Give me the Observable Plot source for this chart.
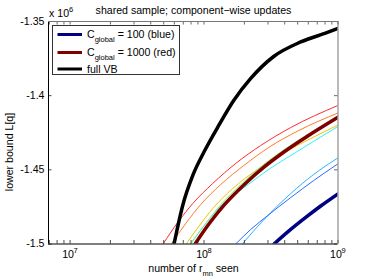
<!DOCTYPE html>
<html><head><meta charset="utf-8">
<script src="https://cdn.jsdelivr.net/npm/d3@7"></script>
<script src="https://cdn.jsdelivr.net/npm/@observablehq/plot@0.6"></script>
<style>
body{margin:0;background:#fff}
#wrap{position:relative;width:373px;height:280px}
</style>
</head><body><div id="wrap"></div>
<script>
// ---- data (x: number of r_mn seen, y: lower bound L[q] in units of 1e6) ----
const fullVB_x = [5.97e7, 6.93e7, 8.24e7, 1.012e8, 1.287e8, 1.665e8, 2.231e8, 3.31e8, 5.27e8, 8.34e8, 1e9];
const fullVB_y = [-1.5, -1.4740, -1.4538, -1.4370, -1.4201, -1.4033, -1.3884, -1.3736, -1.3638, -1.3574, -1.3547];

const c1000_x = [8.42e7, 1.09e8, 1.41e8, 1.99e8, 2.80e8, 3.95e8, 5.91e8, 1e9];
const c1000_y = [-1.501, -1.4864, -1.4738, -1.4600, -1.4482, -1.4380, -1.4274, -1.4146];

const c100_x = [3.33e8, 4.436e8, 5.741e8, 7.429e8, 1e9];
const c100_y = [-1.5, -1.4902, -1.4821, -1.4744, -1.4662];

const red_x = [4.94e7, 6.36e7, 8.24e7, 1.161e8, 1.724e8, 2.649e8, 4.436e8, 1e9];
const red_y = [-1.5, -1.4855, -1.4727, -1.4592, -1.4457, -1.4336, -1.4215, -1.4066];

const orange_x = [5.69e7, 7.30e7, 9.45e7, 1.332e8, 1.979e8, 3.040e8, 5.090e8, 1e9];
const orange_y = [-1.5, -1.4862, -1.4734, -1.4599, -1.4471, -1.4349, -1.4235, -1.4117];

const green_x = [7.956e7, 1.030e8, 1.332e8, 1.879e8, 2.649e8, 3.80e8, 5.741e8, 1e9];
const green_y = [-1.5, -1.4862, -1.4735, -1.4600, -1.4480, -1.4375, -1.4270, -1.4134];

const gold_x = [7.365e7, 9.13e7, 1.161e8, 1.638e8, 2.431e8, 3.866e8, 6.258e8, 1e9];
const gold_y = [-1.5, -1.4882, -1.4761, -1.4626, -1.4505, -1.4390, -1.4289, -1.4198];

const cyan_x = [7.89e7, 9.95e7, 1.287e8, 2.156e8, 3.147e8, 4.834e8, 6.817e8, 1e9];
const cyan_y = [-1.5, -1.4879, -1.4757, -1.4596, -1.4488, -1.4383, -1.4299, -1.4208];

const sky_x = [1.934e8, 2.431e8, 3.147e8, 4.436e8, 6.587e8, 1e9];
const sky_y = [-1.5, -1.4896, -1.4788, -1.4660, -1.4531, -1.4419];

const blue_x = [1.724e8, 2.231e8, 2.988e8, 4.436e8, 6.587e8, 1e9];
const blue_y = [-1.5, -1.4902, -1.4808, -1.4687, -1.4572, -1.4459];

const yTicks = [-1.5, -1.45, -1.4, -1.35];
const yTickLabels = ["-1.5", "-1.45", "-1.4", "-1.35"];
const xMajorTicks = [1e7, 1e8, 1e9];
const xMajorExp = ["7", "8", "9"];
const xMinorTicks = [7e6, 8e6, 9e6, 2e7, 3e7, 4e7, 5e7, 6e7, 7e7, 8e7, 9e7, 2e8, 3e8, 4e8, 5e8, 6e8, 7e8, 8e8, 9e8];
const xDomain = [6.9e6, 1e9];
const yDomain = [-1.5, -1.35];

const legendLabels = [["C", "global", " = 100 (blue)"], ["C", "global", " = 1000 (red)"], ["", "", "full VB"]];

// ---- build table ----
const rows = [];
function add(name, xs, ys, color, w) { xs.forEach((x, i) => rows.push({series: name, x, y: ys[i], color, w})); }
add("red", red_x, red_y, "#ff2a2a", 1);
add("orange", orange_x, orange_y, "#ff7a26", 1);
add("gold", gold_x, gold_y, "#f2c200", 1);
add("cyan", cyan_x, cyan_y, "#33f0f0", 1);
add("green", green_x, green_y, "#7ef07e", 1);
add("sky", sky_x, sky_y, "#26b5ff", 1);
add("blue", blue_x, blue_y, "#3366ff", 1);
add("fullVB", fullVB_x, fullVB_y, "#000000", 3.5);
add("c1000", c1000_x, c1000_y, "#800000", 3.5);
add("c100", c100_x, c100_y, "#000080", 3.5);

const W = 373, H = 280, mL = 48, mR = 35.5, mT = 21, mB = 36.5;
const ph = H - mT - mB, pw = W - mL - mR, tk = 3.5;
const font = "'Liberation Sans', Arial, Helvetica, sans-serif";

const chart = Plot.plot({
  width: W, height: H,
  marginLeft: mL, marginRight: mR, marginTop: mT, marginBottom: mB,
  x: {type: "log", domain: xDomain, axis: null},
  y: {domain: yDomain, axis: null},
  style: {fontFamily: font, fontSize: "10.6px", background: "white", color: "black"},
  marks: [
    Plot.line(rows, {x: "x", y: "y", z: "series", stroke: "color", strokeWidth: "w", curve: "monotone-x", clip: true}),
    // ticks (inward)
    Plot.ruleX(xMajorTicks.concat(xMinorTicks), {insetTop: ph - tk, stroke: "#222", strokeWidth: 0.8}),
    Plot.ruleX(xMajorTicks.concat(xMinorTicks), {insetBottom: ph - tk, stroke: "#444", strokeWidth: 0.8}),
    Plot.ruleY(yTicks, {insetRight: pw - tk, stroke: "#222", strokeWidth: 0.8}),
    Plot.ruleY(yTicks, {insetLeft: pw - tk, stroke: "#444", strokeWidth: 0.8}),
    // box
    Plot.ruleX([xDomain[0]], {stroke: "#000"}),
    Plot.ruleY([yDomain[0]], {stroke: "#000"}),
    Plot.ruleX([xDomain[1]], {stroke: "#777"}),
    Plot.ruleY([yDomain[1]], {stroke: "#777"}),
    // y tick labels
    Plot.text(yTicks, {y: d => d, text: (d, i) => yTickLabels[i], frameAnchor: "left", textAnchor: "end", dx: -4, fontSize: 10.6}),
    // x tick labels 10^n
    Plot.text(xMajorTicks, {x: d => d, text: () => "10", frameAnchor: "bottom", dy: 13.5, dx: -2, fontSize: 10.6}),
    Plot.text(xMajorTicks, {x: d => d, text: (d, i) => xMajorExp[i], frameAnchor: "bottom", dy: 8.5, dx: 5.5, fontSize: 7.5})
  ]
});
document.getElementById("wrap").append(chart);

const svg = d3.select(chart);
svg.attr("font-family", font);
// title
svg.append("text").attr("x", 193.5).attr("y", 13.5).attr("text-anchor", "middle")
  .attr("font-size", 10.6).attr("fill", "#000").text("shared sample; component\u2212wise updates");
// x 10^6 multiplier
const mult = svg.append("text").attr("x", 49).attr("y", 16.5).attr("text-anchor", "start").attr("font-size", 10.6).attr("fill", "#000");
mult.append("tspan").text("x 10");
mult.append("tspan").attr("dy", -5).attr("font-size", 7.5).text("6");
// x label
const xl = svg.append("text").attr("x", 193.5).attr("y", 272).attr("text-anchor", "middle").attr("font-size", 10.6).attr("fill", "#000");
xl.append("tspan").text("number of r");
xl.append("tspan").attr("dy", 3.5).attr("font-size", 7.5).text("mn");
xl.append("tspan").attr("dy", -3.5).text(" seen");
// y label
svg.append("text").attr("transform", "translate(13,152) rotate(-90)").attr("text-anchor", "middle")
  .attr("font-size", 10.6).attr("fill", "#000").text("lower bound L[q]");

// legend
const lg = svg.append("g").attr("transform", "translate(52.5,25.5)");
lg.append("rect").attr("width", 127).attr("height", 49).attr("fill", "#fff").attr("stroke", "#333").attr("stroke-width", 1);
const legColors = ["#000080", "#800000", "#000000"];
const legY = [9, 27, 43.5];
legendLabels.forEach((lab, i) => {
  lg.append("line").attr("x1", 5).attr("x2", 29.5).attr("y1", legY[i]).attr("y2", legY[i])
    .attr("stroke", legColors[i]).attr("stroke-width", 3);
  const t = lg.append("text").attr("x", 34.5).attr("y", legY[i] + 3.8).attr("text-anchor", "start")
    .attr("font-size", 10.6).attr("fill", "#000");
  if (lab[0]) {
    t.append("tspan").text(lab[0]);
    t.append("tspan").attr("dy", 3.5).attr("font-size", 7.5).text(lab[1]);
    t.append("tspan").attr("dy", -3.5).text(lab[2]);
  } else {
    t.append("tspan").text(lab[2]);
  }
});
</script>
</body></html>
